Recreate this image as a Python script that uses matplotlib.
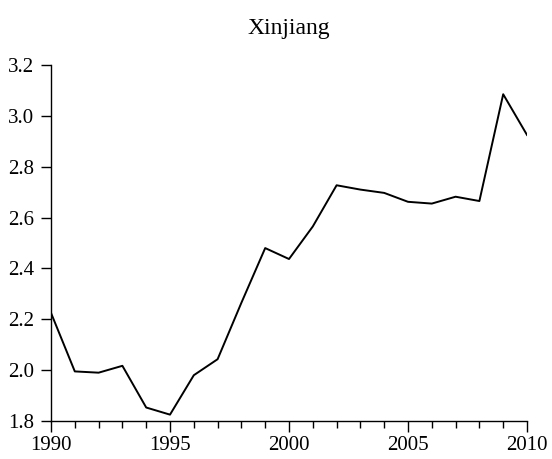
import matplotlib
matplotlib.use("Agg")
import matplotlib.pyplot as plt
from matplotlib.ticker import MultipleLocator

plt.rcParams["font.family"] = "Liberation Serif"
plt.rcParams["font.size"] = 15

years = list(range(1990, 2011))
values = [2.225, 1.995, 1.99, 2.017, 1.853, 1.825, 1.98, 2.043, 2.265, 2.48, 2.437,
          2.565, 2.727, 2.71, 2.697, 2.662, 2.655, 2.682, 2.665, 3.085, 2.925]

fig = plt.figure(figsize=(5.52, 4.59), dpi=100)
ax = fig.add_axes([0.0924, 0.0828, 0.8623, 0.7756])

ax.plot(years, values, color="black", linewidth=1.4)

ax.set_xlim(1990, 2010)
ax.set_ylim(1.8, 3.2)
ax.xaxis.set_major_locator(MultipleLocator(5))
ax.xaxis.set_minor_locator(MultipleLocator(1))
ax.yaxis.set_major_locator(MultipleLocator(0.2))
ax.yaxis.set_major_formatter(lambda v, p: f"{v:.1f}")

for s in ["top", "right"]:
    ax.spines[s].set_visible(False)
for s in ["left", "bottom"]:
    ax.spines[s].set_linewidth(1.0)

ax.tick_params(axis="y", direction="out", length=7, width=1.0, pad=5)
ax.tick_params(axis="x", which="major", direction="out", length=8, width=1.0, pad=3)
ax.tick_params(axis="x", which="minor", direction="out", length=5, width=1.0)

ax.set_title("Xinjiang", pad=22, fontsize=17)

fig.savefig("out.png", dpi=100)
